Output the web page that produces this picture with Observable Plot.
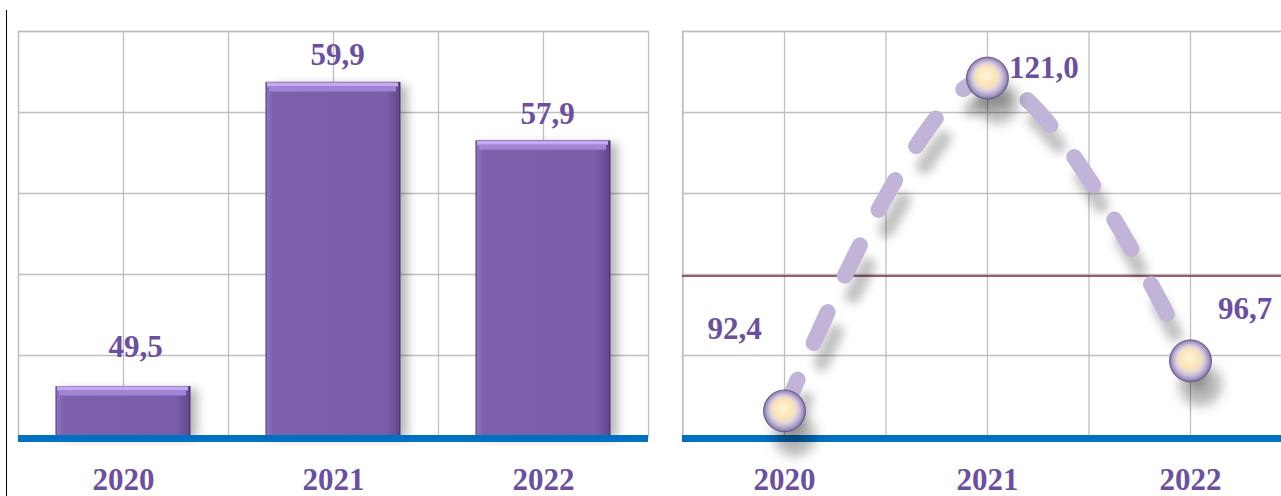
<!DOCTYPE html>
<html><head><meta charset="utf-8">
<script src="https://cdn.jsdelivr.net/npm/d3@7"></script>
<script src="https://cdn.jsdelivr.net/npm/@observablehq/plot@0.6"></script>
<style>
html,body{margin:0;padding:0;background:#fff;overflow:hidden;width:1281px;height:496px;}
#wrap{position:relative;width:1281px;height:496px;overflow:hidden;}
#left{position:absolute;left:0;top:0;width:660px;height:496px;}
#right{position:absolute;left:664px;top:0;width:637px;height:496px;}
#wrap svg{max-width:none !important;}
#vline{position:absolute;left:6px;top:10px;width:1.4px;height:486px;background:#000;}
</style></head><body>
<div id="wrap"><div id="vline"></div><div id="left"></div><div id="right"></div></div>
<script>
// ---- data ----
const years = ["2020", "2021", "2022"];
const barValues = [49.5, 59.9, 57.9];
const barLabels = ["49,5", "59,9", "57,9"];
const lineValues = [92.4, 121.0, 96.7];
const lineLabels = ["92,4", "121,0", "96,7"];
const barDomain = [47.79, 61.64];
const lineDomain = [90.2, 125];
const referenceValue = [104];

// ---- styles ----
const FONT = "'Liberation Serif','Times New Roman',serif";
const TEXT = "#6B4FA0";
const GRID = "#BFBFBF";
const BLUE = "#0070C0";
const gridTicks = ([lo, hi]) => d3.range(6).map(i => lo + i * (hi - lo) / 5);

const barData = years.map((year, i) => ({year, value: barValues[i], label: barLabels[i]}));
const lineData = years.map((year, i) => ({year, value: lineValues[i], label: lineLabels[i]}));

const defs = `
<linearGradient id="barBody" x1="0" x2="1" y1="0" y2="0">
  <stop offset="0" stop-color="#8f72c2"/>
  <stop offset="0.05" stop-color="#7e61ad"/>
  <stop offset="0.9" stop-color="#7b5ea9"/>
  <stop offset="1" stop-color="#624890"/>
</linearGradient>
<radialGradient id="sphere" cx="0.5" cy="0.5" r="0.5" fx="0.46" fy="0.42">
  <stop offset="0" stop-color="#fff5de"/>
  <stop offset="0.42" stop-color="#fde5b7"/>
  <stop offset="0.6" stop-color="#eadbd0"/>
  <stop offset="0.76" stop-color="#c6badd"/>
  <stop offset="0.92" stop-color="#9b8cba"/>
  <stop offset="1" stop-color="#6f6290"/>
</radialGradient>`;

const half = 105; // half band width of left chart, pixels
const left = Plot.plot({
  width: 660, height: 496,
  marginLeft: 18, marginRight: 12, marginTop: 31, marginBottom: 60,
  style: {fontFamily: FONT, background: "transparent", overflow: "visible", maxWidth: "none"},
  x: {type: "band", domain: years, padding: 0},
  y: {domain: barDomain, axis: null},
  marks: [
    Plot.gridY(gridTicks(barDomain), {stroke: GRID, strokeOpacity: 1, strokeWidth: 1.3}),
    Plot.ruleX(years, {x: d => d, stroke: GRID, strokeWidth: 1.3}),
    Plot.ruleX(years, {x: d => d, dx: -half, stroke: GRID, strokeWidth: 1.3}),
    Plot.frame({stroke: GRID, strokeWidth: 1.3}),
    Plot.barY(barData, {x: "year", y1: barDomain[0], y2: "value", insetLeft: 37.5, insetRight: 37.5,
      fill: "#4a3872", imageFilter: "drop-shadow(7px 3px 5px rgba(0,0,0,0.28))"}),
    Plot.barY(barData, {x: "year", y1: barDomain[0], y2: "value", insetLeft: 38.5, insetRight: 39,
      fill: "url(#barBody)"}),
    Plot.tickY(barData, {x: "year", y: "value", insetLeft: 39, insetRight: 40, stroke: "#c4abf1", strokeWidth: 4, dy: 2}),
    Plot.tickY(barData, {x: "year", y: "value", insetLeft: 41, insetRight: 42, stroke: "#a085d5", strokeWidth: 5, dy: 6.5}),
    Plot.ruleY([barDomain[0]], {stroke: BLUE, strokeWidth: 7, dy: 2}),
    Plot.text(barData, {filter: d => d.year === "2020", x: "year", y: "value", text: "label", lineAnchor: "bottom",
      dx: 12, dy: -29, fontSize: 31, fontWeight: "bold", fill: TEXT}),
    Plot.text(barData, {filter: d => d.year !== "2020", x: "year", y: "value", text: "label", lineAnchor: "bottom",
      dx: 4, dy: -17, fontSize: 31, fontWeight: "bold", fill: TEXT}),
    Plot.axisX({tickSize: 0, tickPadding: 31, fontSize: 31, fontWeight: "bold", fill: TEXT, label: null})
  ]
});

const rhalf = 101.5;
const right = Plot.plot({
  width: 637, height: 496,
  marginLeft: 18, marginRight: 10, marginTop: 31, marginBottom: 60,
  style: {fontFamily: FONT, background: "transparent", overflow: "visible", maxWidth: "none"},
  x: {type: "point", domain: years, padding: 0.5},
  y: {domain: lineDomain, axis: null},
  marks: [
    Plot.gridY(gridTicks(lineDomain), {stroke: GRID, strokeOpacity: 1, strokeWidth: 1.3}),
    Plot.ruleX(years, {x: d => d, stroke: GRID, strokeWidth: 1.3}),
    Plot.ruleX(years, {x: d => d, dx: -rhalf, stroke: GRID, strokeWidth: 1.3}),
    Plot.frame({stroke: GRID, strokeWidth: 1.3}),
    Plot.ruleY(referenceValue, {stroke: "#7a2a45", strokeWidth: 1.5}),
    Plot.ruleY([lineDomain[0]], {stroke: BLUE, strokeWidth: 7, dy: 2}),
    Plot.line(lineData, {x: "year", y: "value", curve: "catmull-rom", stroke: "#C2B4D9", strokeWidth: 16,
      strokeDasharray: "34,40", strokeLinecap: "round",
      imageFilter: "drop-shadow(8px 20px 5px rgba(0,0,0,0.24))"}),
    Plot.dot(lineData, {x: "year", y: "value", r: 21, fill: "url(#sphere)", stroke: "#5f5383", strokeWidth: 0.8,
      imageFilter: "drop-shadow(10px 24px 6px rgba(0,0,0,0.28))"}),
    Plot.text(lineData, {filter: d => d.year === "2020", x: "year", y: "value", text: "label", lineAnchor: "bottom",
      dx: -50, dy: -72, fontSize: 31, fontWeight: "bold", fill: TEXT}),
    Plot.text(lineData, {filter: d => d.year === "2021", x: "year", y: "value", text: "label", lineAnchor: "bottom",
      textAnchor: "start", dx: 21.5, dy: 0, fontSize: 31, fontWeight: "bold", fill: TEXT}),
    Plot.text(lineData, {filter: d => d.year === "2022", x: "year", y: "value", text: "label", lineAnchor: "bottom",
      dx: 54.5, dy: -42, fontSize: 31, fontWeight: "bold", fill: TEXT}),
    Plot.axisX({tickSize: 0, tickPadding: 31, fontSize: 31, fontWeight: "bold", fill: TEXT, label: null})
  ]
});

for (const svg of [left, right]) d3.select(svg).insert("defs", ":first-child").html(defs);
document.getElementById("left").appendChild(left);
document.getElementById("right").appendChild(right);
</script>
</body></html>
